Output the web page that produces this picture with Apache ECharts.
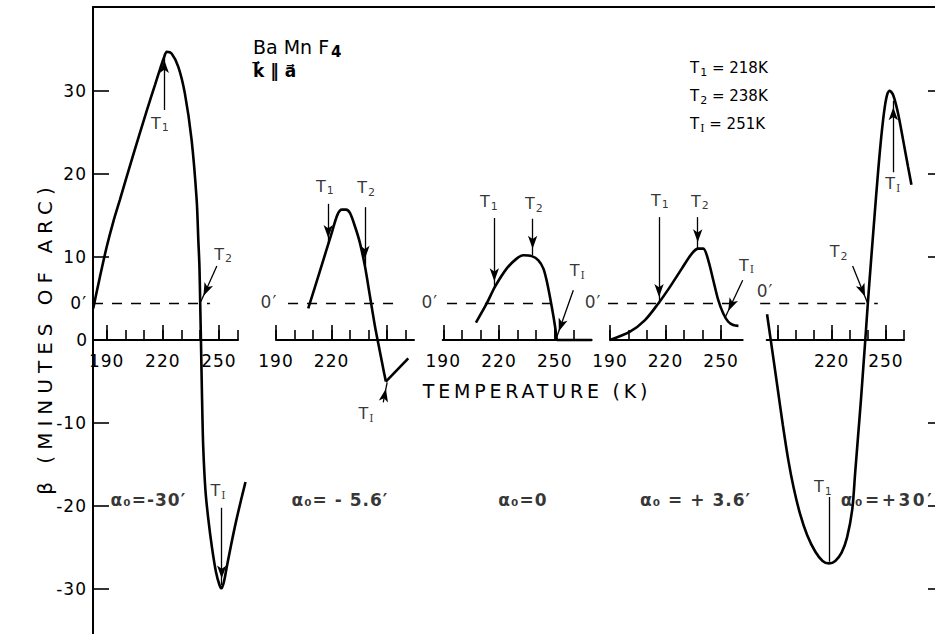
<!DOCTYPE html>
<html>
<head>
<meta charset="utf-8">
<title>BaMnF4 β versus temperature</title>
<script src="https://cdn.jsdelivr.net/npm/echarts@6.0.0/dist/echarts.min.js"></script>
<style>
  html, body { margin: 0; padding: 0; background: #fff; }
  #chart { width: 935px; height: 634px; letter-spacing: 1px; }
</style>
</head>
<body>
<div id="chart"></div>
<script>
// ---- measured curves: temperature (K) against β (minutes of arc) ----
// α0 = -30'
const tempA = [182.8, 186.4, 190.0, 193.5, 197.1, 204.2, 211.4, 215.8, 218.5, 220.6, 222.2, 224.7, 228.3, 231.8, 235.4, 238.1, 239.0, 239.6, 240.0, 240.4, 241.0, 241.6, 242.8, 244.4, 246.3, 248.4, 250.3, 251.4, 252.7, 254.3, 256.4, 259.1, 261.8, 264.2];
const betaA = [3.8, 7.6, 11.2, 14.2, 16.9, 22.3, 27.6, 30.7, 32.6, 34.0, 34.7, 34.5, 32.9, 29.7, 24.1, 16.9, 12.0, 8.8, 4.4, -0.1, -7.2, -12.8, -18.1, -21.7, -25.0, -27.9, -29.5, -29.9, -29.1, -27.2, -24.8, -21.9, -19.3, -17.1];
// α0 = -5.6'
const tempB = [207.4, 213.7, 220.1, 223.2, 225.6, 227.8, 229.9, 232.6, 235.3, 238.0, 240.7, 243.4, 246.1, 248.3, 249.3];
const betaB = [3.8, 8.3, 12.9, 15.1, 15.7, 15.7, 15.3, 13.7, 11.7, 8.9, 5.3, 1.7, -1.4, -3.9, -5.0];
const tempB2 = [249.3, 261.4];
const betaB2 = [-5.0, -2.2];
// α0 = 0
const tempC = [207.6, 213.4, 217.8, 224.1, 229.5, 233.1, 237.6, 241.2, 243.9, 246.0, 248.4, 250.2, 251.1];
const betaC = [2.1, 4.4, 6.4, 8.6, 9.8, 10.2, 10.1, 9.6, 8.6, 6.8, 4.0, 1.6, 0.0];
const tempC2 = [251.1, 269.9];
const betaC2 = [0, 0];
// α0 = +3.6'
const tempD = [190.0, 200.8, 208.9, 216.1, 222.4, 228.8, 234.2, 237.7, 240.4, 243.1, 245.8, 248.5, 251.2, 253.9, 256.6, 259.4];
const betaD = [0.0, 1.0, 2.4, 4.4, 6.4, 8.6, 10.4, 11.0, 11.0, 9.6, 7.2, 4.8, 3.2, 2.2, 1.8, 1.7];
// α0 = +30'
const tempE = [184.3, 187.0, 190.0, 193.0, 196.0, 199.0, 202.5, 206.5, 211.0, 215.0, 218.5, 222.0, 225.5, 228.5, 231.4, 233.0, 234.6, 236.2, 237.6, 238.6, 240.0, 241.8, 243.7, 245.5, 247.5, 249.4, 250.9, 252.1, 254.0, 256.7, 259.5, 262.2, 264.1];
const betaE = [3.1, -1.0, -5.6, -10.2, -14.4, -17.8, -20.9, -23.5, -25.5, -26.6, -26.9, -26.6, -25.6, -23.8, -20.4, -16.0, -11.6, -7.2, -3.0, 0.0, 4.4, 9.6, 14.9, 19.8, 24.6, 28.1, 29.7, 30.0, 29.5, 27.3, 24.1, 20.9, 18.7];

// ---- axis ticks and labels ----
const betaTicks = [-30, -20, -10, 10, 20, 30];
const betaLabels = [-30, -20, -10, 0, 10, 20, 30];
const zeroPrime = 4.4;                 // shifted origin 0'
const tempTicks = [190, 200, 210, 220, 230, 240, 250, 260];
const tempTicksShort = [190, 200, 210, 220, 230, 240, 250];
const tempMajor = [190, 220, 250];
const labelsA = [190, 220, 250];
const labelsB = [190, 220];
const labelsC = [190, 220, 250];
const labelsD = [190, 220, 250];
const labelsE = [220, 250];
const alphaTexts = ["α₀=-30′", "α₀= - 5.6′", "α₀=0", "α₀ = + 3.6′", "α₀=+30′"];

// ---- transition markers: label position, arrow tail and arrow tip (T, β) ----
const notesA = [
  {sub: '1', label: [218.5, 26.0], from: [220.8, 27.7], to: [220.8, 34.5], head: true},
  {sub: '2', label: [252.2, 10.2], from: [248.9, 8.9], to: [240.3, 4.6], head: true},
  {sub: 'I', label: [249.5, -18.3], from: [251.5, -20.2], to: [251.5, -29.5], head: true}
];
const notesB = [
  {sub: '1', label: [216.4, 18.4], from: [218.2, 16.4], to: [218.2, 11.5], head: true},
  {sub: '2', label: [238.6, 18.2], from: [238.0, 16.0], to: [238.0, 9.0], head: true},
  {sub: 'I', label: [238.6, -9.0], from: [247.9, -7.5], to: [250.0, -5.1], head: true}
];
const notesC = [
  {sub: '1', label: [214.6, 16.5], from: [217.5, 14.7], to: [217.5, 6.3], head: true},
  {sub: '2', label: [238.8, 16.3], from: [238.1, 14.6], to: [238.1, 10.2], head: true},
  {sub: 'I', label: [262.2, 8.2], from: [260.0, 6.0], to: [251.0, 0.3], head: true}
];
const notesD = [
  {sub: '1', label: [217.0, 16.7], from: [216.5, 14.8], to: [216.5, 4.4], head: true},
  {sub: '2', label: [238.6, 16.6], from: [237.4, 14.8], to: [237.4, 11.0], head: true},
  {sub: 'I', label: [263.8, 8.9], from: [261.7, 7.2], to: [252.4, 2.8], head: true}
];
const notesE = [
  {sub: '2', label: [223.9, 10.5], from: [231.6, 8.9], to: [239.8, 4.5], head: true},
  {sub: 'I', label: [253.8, 18.7], from: [254.1, 20.2], to: [254.1, 28.8], head: true},
  {sub: '1', label: [215.2, -17.8], from: [218.5, -18.9], to: [218.5, -26.7], head: false}
];

// ---- styling and layout ----
const INK = '#000';
const FONT = 'DejaVu Sans';
const BETA_MIN = -35.4, BETA_MAX = 40.1;
const PLOT_TOP = 7, PLOT_H = 627;
const PX_PER_BETA = PLOT_H / (BETA_MAX - BETA_MIN);
const AXIS_H = BETA_MAX * PX_PER_BETA;     // height from the top edge down to β = 0
const PAD = 40;   // extra room (px) each side of a panel so curves may run past its axis

const panels = [
  {left: 93,    width: 145,   min: 182.7, max: 260.2, ticks: tempTicks,      labels: labelsA,
   curves: [[tempA, betaA]], dash: [182.7, 245.2], notes: notesA,
   alpha: {at: [212.3, -19.3], align: 'center'}, prime: null},
  {left: 276,   width: 138,   min: 190.0, max: 264.5, ticks: tempTicks,      labels: labelsB,
   curves: [[tempB, betaB], [tempB2, betaB2]], dash: [196.5, 254.2], notes: notesB,
   alpha: {at: [224.5, -19.3], align: 'center'}, prime: [186.2, 4.4]},
  {left: 442.7, width: 149,   min: 189.7, max: 269.9, ticks: tempTicks,      labels: labelsC,
   curves: [[tempC, betaC], [tempC2, betaC2]], dash: [192.0, 252.8], notes: notesC,
   alpha: {at: [232.9, -19.3], align: 'center'}, prime: [182.8, 4.4]},
  {left: 610,   width: 132.7, min: 190.0, max: 261.7, ticks: tempTicksShort, labels: labelsD,
   curves: [[tempD, betaD]], dash: [188.9, 259.1], notes: notesD,
   alpha: {at: [236.2, -19.3], align: 'center'}, prime: [180.8, 4.4]},
  {left: 766.7, width: 137.3, min: 184.1, max: 260.0, ticks: tempTicks,      labels: labelsE,
   curves: [[tempE, betaE]], dash: [180.5, 245.5], notes: notesE,
   alpha: {at: [225.1, -19.3], align: 'left'}, prime: [183.2, 5.7]}
];

const plain = {textBorderWidth: 0, textBorderColor: 'transparent', textShadowBlur: 0};
const rich = {
  t:  Object.assign({fontFamily: FONT, fontSize: 16, color: INK, lineHeight: 18, verticalAlign: 'top'}, plain),
  s:  Object.assign({fontFamily: FONT, fontSize: 11, color: INK, lineHeight: 11, padding: [9, 0, 0, 1], verticalAlign: 'bottom'}, plain),
  si: Object.assign({fontFamily: 'DejaVu Serif', fontSize: 11, color: INK, lineHeight: 11, padding: [9, 0, 0, 1], verticalAlign: 'bottom'}, plain),
  a:  Object.assign({fontFamily: FONT, fontSize: 17, fontWeight: 'bold', color: INK, lineHeight: 20}, plain),
  p:  Object.assign({fontFamily: FONT, fontSize: 17, color: INK, lineHeight: 20, verticalAlign: 'top'}, plain),
  g:  Object.assign({fontFamily: FONT, fontSize: 15, color: INK, lineHeight: 18, verticalAlign: 'top'}, plain)
};

function tLabel(sub) {
  return '{t|T}' + (sub === 'I' ? '{si|I}' : '{s|' + sub + '}');
}

const gridBase = {top: PLOT_TOP, height: PLOT_H, containLabel: false, outerBoundsMode: 'none'};
const axisGridBase = {top: PLOT_TOP, height: AXIS_H, containLabel: false, outerBoundsMode: 'none'};
const grids = [Object.assign({left: 93, width: 844}, gridBase)];
const xAxes = [{
  gridIndex: 0, type: 'value', position: 'top', min: 0, max: 1,
  axisLine: {onZero: false, lineStyle: {color: INK, width: 2}},
  axisTick: {show: false}, axisLabel: {show: false}, splitLine: {show: false}
}];
const yAxes = [
  {
    gridIndex: 0, type: 'value', position: 'left', min: BETA_MIN, max: BETA_MAX,
    axisLine: {onZero: false, lineStyle: {color: INK, width: 2}},
    axisTick: {inside: true, length: 16, customValues: betaTicks, lineStyle: {color: INK, width: 1.6}},
    axisLabel: {
      customValues: betaLabels.concat([zeroPrime]), margin: 6,
      fontFamily: FONT, fontSize: 17, color: INK,
      formatter: v => (Math.abs(v - zeroPrime) < 1e-6 ? '0′' : String(v))
    },
    splitLine: {show: false}
  },
  {
    gridIndex: 0, type: 'value', position: 'right', min: BETA_MIN, max: BETA_MAX,
    axisLine: {onZero: false, lineStyle: {color: INK, width: 2}},
    axisTick: {inside: true, length: 9, customValues: betaTicks, lineStyle: {color: INK, width: 1.6}},
    axisLabel: {show: false}, splitLine: {show: false}
  }
];
const series = [];

function addHiddenY(gridIndex, min, max) {
  yAxes.push({gridIndex: gridIndex, type: 'value', min: min, max: max, show: false});
  return yAxes.length - 1;
}

panels.forEach((p, i) => {
  // temperature axis of the panel, lying on β = 0
  const gAxis = grids.length;
  grids.push(Object.assign({left: p.left, width: p.width}, axisGridBase));
  addHiddenY(gAxis, 0, BETA_MAX);
  xAxes.push({
    gridIndex: gAxis, type: 'value', position: 'bottom', min: p.min, max: p.max,
    axisLine: {onZero: false, lineStyle: {color: INK, width: 2}},
    axisTick: {inside: true, length: 10, customValues: p.ticks, lineStyle: {color: INK, width: 1.6}},
    axisLabel: {customValues: p.labels, margin: 12, fontFamily: FONT, fontSize: 17, color: INK},
    splitLine: {show: false}
  });
  // longer ticks every 30 K
  const gMajor = grids.length;
  grids.push(Object.assign({left: p.left, width: p.width}, axisGridBase));
  addHiddenY(gMajor, 0, BETA_MAX);
  xAxes.push({
    gridIndex: gMajor, type: 'value', position: 'bottom', min: p.min, max: p.max,
    axisLine: {show: false, onZero: false},
    axisTick: {inside: true, length: 15, customValues: tempMajor, lineStyle: {color: INK, width: 1.6}},
    axisLabel: {show: false}, splitLine: {show: false}
  });

  // drawing area on the same temperature scale, widened on both sides
  const pxPerK = p.width / (p.max - p.min);
  const gPlot = grids.length;
  grids.push(Object.assign({left: p.left - PAD, width: p.width + 2 * PAD}, gridBase));
  const xIdx = xAxes.length;
  xAxes.push({gridIndex: gPlot, type: 'value', min: p.min - PAD / pxPerK, max: p.max + PAD / pxPerK, show: false});
  const yIdx = addHiddenY(gPlot, BETA_MIN, BETA_MAX);

  p.curves.forEach(([xs, ys]) => {
    series.push({
      type: 'line', xAxisIndex: xIdx, yAxisIndex: yIdx,
      data: xs.map((t, k) => [t, ys[k]]),
      showSymbol: false, symbol: 'none', clip: false,
      smooth: 0.3,
      lineStyle: {color: INK, width: 2.6}, silent: true, animation: false
    });
  });

  // 0' reference level
  series.push({
    type: 'line', xAxisIndex: xIdx, yAxisIndex: yIdx,
    data: [[p.dash[0], zeroPrime], [p.dash[1], zeroPrime]],
    showSymbol: false, symbol: 'none', clip: false,
    lineStyle: {color: INK, width: 1.6, type: [10, 9]}, silent: true, animation: false
  });

  // transition labels, α0 label and 0' label
  const labelData = p.notes.map(n => ({
    value: n.label,
    label: {formatter: tLabel(n.sub), align: 'center', verticalAlign: 'middle'}
  }));
  labelData.push({
    value: p.alpha.at,
    label: {formatter: '{a|' + alphaTexts[i] + '}', align: p.alpha.align, verticalAlign: 'middle'}
  });
  if (p.prime) {
    labelData.push({value: p.prime, label: {formatter: '{p|0′}', align: 'center', verticalAlign: 'middle'}});
  }
  series.push({
    type: 'scatter', xAxisIndex: xIdx, yAxisIndex: yIdx, color: INK,
    data: labelData, symbolSize: 0, clip: false, silent: true, animation: false,
    itemStyle: {color: INK},
    label: Object.assign({show: true, position: [0, 0], color: INK, rich: rich}, plain),
    markLine: {
      silent: true, animation: false,
      symbol: ['none', 'none'],
      label: {show: false},
      lineStyle: {color: INK, width: 1.3, type: 'solid'},
      data: p.notes.map(n => [
        {coord: n.from, symbol: 'none'},
        {coord: n.to, symbol: n.head ? 'arrow' : 'none', symbolSize: [7, 13], symbolOffset: [0, '50%']}
      ])
    }
  });
});

const option = {
  backgroundColor: '#fff',
  animation: false,
  color: [INK],
  grid: grids,
  xAxis: xAxes,
  yAxis: yAxes,
  series: series,
  graphic: [
    {type: 'text', x: 45, y: 338, rotation: Math.PI / 2, silent: true,
     style: {text: 'β (MINUTES OF ARC)', font: '20px DejaVu Sans', fill: INK, align: 'center', verticalAlign: 'middle'}},
    {type: 'text', x: 537, y: 391, silent: true,
     style: {text: 'TEMPERATURE (K)', font: '19px DejaVu Sans', fill: INK, align: 'center', verticalAlign: 'middle'}},
    {type: 'text', x: 253, y: 48, silent: true,
     style: {text: '{b|Ba Mn F}{c|4}', align: 'left', verticalAlign: 'middle',
       rich: {b: {fontFamily: FONT, fontSize: 19, color: INK, lineHeight: 22, verticalAlign: 'top'},
              c: {fontFamily: FONT, fontSize: 15, fontWeight: 'bold', color: INK, lineHeight: 15, padding: [8, 0, 0, 2], verticalAlign: 'bottom'}}}},
    {type: 'text', x: 253, y: 71, silent: true,
     style: {text: 'k⃗ ‖ a⃗', font: 'bold 17px DejaVu Sans', fill: INK, align: 'left', verticalAlign: 'middle'}},
    {type: 'text', x: 690, y: 69, silent: true,
     style: {text: '{g|T}{s|1}{g| = 218K}', align: 'left', verticalAlign: 'middle', rich: rich}},
    {type: 'text', x: 690, y: 97, silent: true,
     style: {text: '{g|T}{s|2}{g| = 238K}', align: 'left', verticalAlign: 'middle', rich: rich}},
    {type: 'text', x: 690, y: 125, silent: true,
     style: {text: '{g|T}{si|I}{g| = 251K}', align: 'left', verticalAlign: 'middle', rich: rich}}
  ]
};

const chart = echarts.init(document.getElementById('chart'), null, {renderer: 'svg'});
chart.setOption(option);

// hand-lettered spacing: wide for the two axis titles, none inside formulas and subscripts
function spaceTitles() {
  document.querySelectorAll('#chart svg text').forEach(el => {
    const s = el.textContent;
    if (s === 'β (MINUTES OF ARC)') el.style.letterSpacing = '6px';
    else if (s === 'TEMPERATURE (K)') el.style.letterSpacing = '3.8px';
    else if (s === 'α₀=+30′') el.style.letterSpacing = '2.5px';
    else if (s.length <= 1 || s === 'Ba Mn F' || s.indexOf('‖') >= 0 || s.indexOf('K') > 0) el.style.letterSpacing = '0px';
  });
}
chart.on('finished', spaceTitles);
chart.getZr().flush();
spaceTitles();
</script>
</body>
</html>
